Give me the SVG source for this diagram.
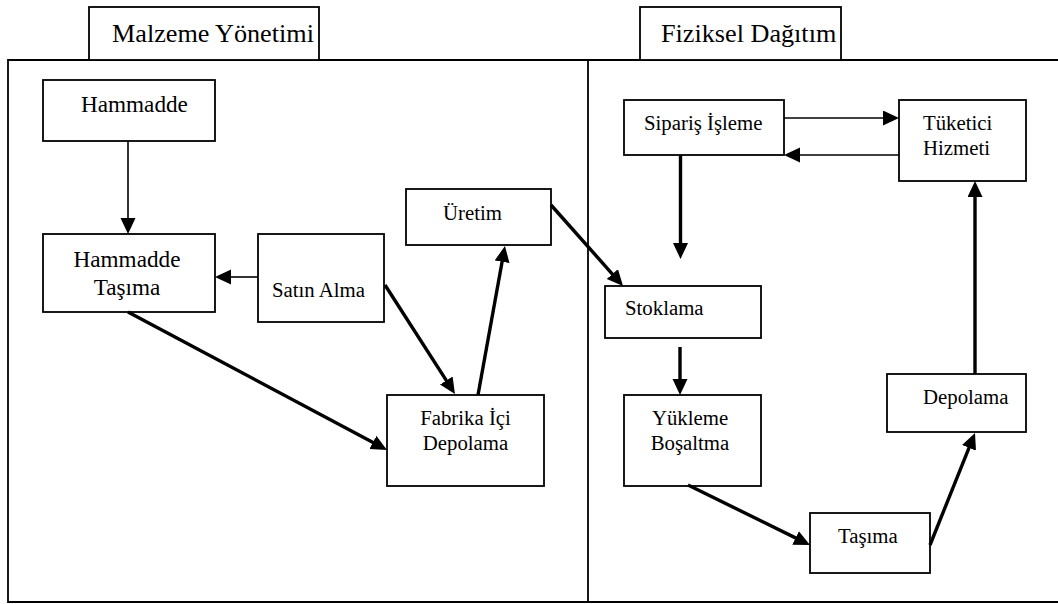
<svg xmlns="http://www.w3.org/2000/svg" width="1058" height="604" viewBox="0 0 1058 604">
<style>
.box{fill:#fff;stroke:#000;stroke-width:1.8}
.frame{fill:none;stroke:#000;stroke-width:1.8}
.t{font-family:"Liberation Serif","Times New Roman",serif;fill:#000;font-size:20.8px}
.big{font-size:23.2px}
.title{font-size:26.2px}
.thin{fill:none;stroke:#000;stroke-width:1.6}
.thick{fill:none;stroke:#000;stroke-width:3.4}
</style>
<defs>
<marker id="ah" markerUnits="userSpaceOnUse" markerWidth="17" markerHeight="16" refX="5" refY="7.5" orient="auto">
<path d="M0,0 L16,7.5 L0,15 z" fill="#000"/>
</marker>
</defs>
<rect width="1058" height="604" fill="#fff"/>
<g id="frame">
<path class="frame" d="M1058,60 H8 V602 H1058"/>
<line class="frame" x1="588" y1="60" x2="588" y2="602"/>
</g>
<g id="title-malzeme">
<rect class="box" x="89" y="7" width="230" height="53"/>
<text class="t title" x="112" y="42">Malzeme Yönetimi</text>
</g>
<g id="title-fiziksel">
<rect class="box" x="640" y="7" width="201" height="53"/>
<text class="t title" x="661" y="42">Fiziksel Dağıtım</text>
</g>
<g id="hammadde">
<rect class="box" x="43" y="80" width="172" height="61"/>
<text class="t big" x="81" y="112">Hammadde</text>
</g>
<g id="hammadde-tasima">
<rect class="box" x="43" y="234" width="172" height="78"/>
<text class="t big" x="127" y="267" text-anchor="middle">Hammadde</text>
<text class="t big" x="127" y="295" text-anchor="middle">Taşıma</text>
</g>
<g id="satin-alma">
<rect class="box" x="258" y="234" width="126" height="88"/>
<text class="t" x="272" y="297">Satın Alma</text>
</g>
<g id="uretim">
<rect class="box" x="406" y="189" width="145" height="56"/>
<text class="t" x="443" y="220">Üretim</text>
</g>
<g id="fabrika-ici-depolama">
<rect class="box" x="387" y="395" width="157" height="91"/>
<text class="t" x="465.5" y="425" text-anchor="middle">Fabrika İçi</text>
<text class="t" x="465.5" y="450" text-anchor="middle">Depolama</text>
</g>
<g id="siparis-isleme">
<rect class="box" x="624" y="100" width="160" height="55"/>
<text class="t" x="644" y="130">Sipariş İşleme</text>
</g>
<g id="tuketici-hizmeti">
<rect class="box" x="899" y="100" width="127" height="81"/>
<text class="t" x="923" y="130">Tüketici</text>
<text class="t" x="923" y="155">Hizmeti</text>
</g>
<g id="stoklama">
<rect class="box" x="605" y="286" width="156" height="52"/>
<text class="t" x="625" y="315">Stoklama</text>
</g>
<g id="yukleme-bosaltma">
<rect class="box" x="624" y="395" width="137" height="91"/>
<text class="t" x="690" y="425" text-anchor="middle">Yükleme</text>
<text class="t" x="690" y="450" text-anchor="middle">Boşaltma</text>
</g>
<g id="tasima">
<rect class="box" x="810" y="513" width="120" height="60"/>
<text class="t" x="838" y="543">Taşıma</text>
</g>
<g id="depolama">
<rect class="box" x="887" y="374" width="139" height="58"/>
<text class="t" x="923" y="404">Depolama</text>
</g>
<g id="connectors">
<line class="thin" x1="128" y1="141" x2="128" y2="223" marker-end="url(#ah)"/>
<line class="thin" x1="258" y1="277" x2="226" y2="277" marker-end="url(#ah)"/>
<line class="thick" x1="128" y1="312" x2="377.3" y2="444.8" marker-end="url(#ah)"/>
<line class="thick" x1="385" y1="285" x2="449" y2="384.7" marker-end="url(#ah)"/>
<line class="thick" x1="478" y1="395" x2="503" y2="256.8" marker-end="url(#ah)"/>
<line class="thick" x1="551" y1="205" x2="615.7" y2="277.8" marker-end="url(#ah)"/>
<line class="thin" x1="784" y1="118" x2="888" y2="118" marker-end="url(#ah)"/>
<line class="thin" x1="899" y1="155" x2="795" y2="155" marker-end="url(#ah)"/>
<line class="thick" x1="680.5" y1="155" x2="680.5" y2="248" marker-end="url(#ah)"/>
<line class="thick" x1="680" y1="347" x2="680" y2="384" marker-end="url(#ah)"/>
<line class="thick" x1="688" y1="485" x2="800.1" y2="540.1" marker-end="url(#ah)"/>
<line class="thick" x1="930" y1="545" x2="970.9" y2="443.2" marker-end="url(#ah)"/>
<line class="thick" x1="975" y1="374" x2="975" y2="192" marker-end="url(#ah)"/>
</g>
</svg>
